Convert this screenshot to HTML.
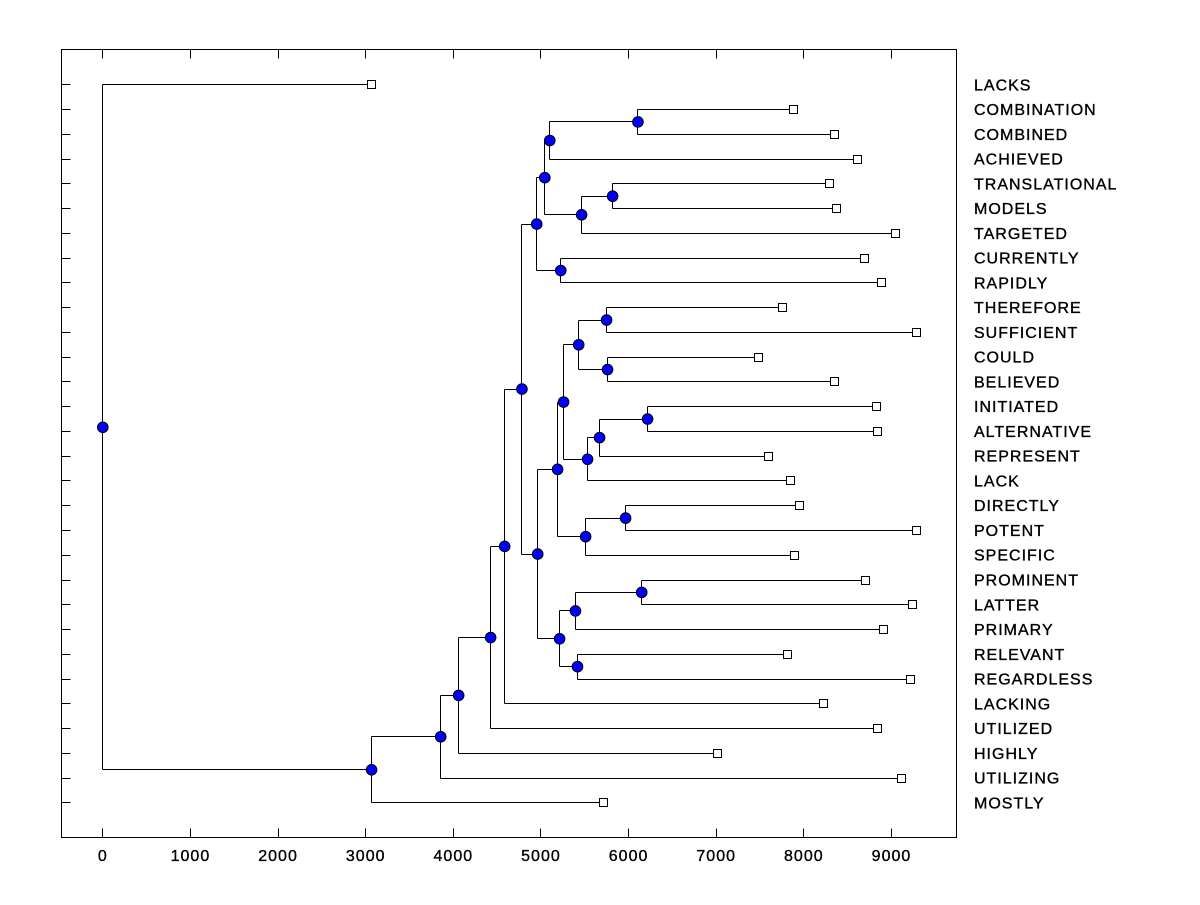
<!DOCTYPE html>
<html><head><meta charset="utf-8"><style>
html,body{margin:0;padding:0;background:#fff;}
svg text{font-family:"Liberation Sans",Arial,sans-serif;font-size:16px;letter-spacing:1px;fill:#000;stroke:#000;stroke-width:0.35px;}
</style></head><body>
<svg id="chart" width="1200" height="900" xmlns="http://www.w3.org/2000/svg">
<rect x="61.5" y="49.5" width="895" height="788" fill="#fff" stroke="#000" stroke-width="1"/>
<g id="g"></g>
</svg>
<script>
const labels = ["LACKS","COMBINATION","COMBINED","ACHIEVED","TRANSLATIONAL","MODELS","TARGETED","CURRENTLY","RAPIDLY","THEREFORE","SUFFICIENT","COULD","BELIEVED","INITIATED","ALTERNATIVE","REPRESENT","LACK","DIRECTLY","POTENT","SPECIFIC","PROMINENT","LATTER","PRIMARY","RELEVANT","REGARDLESS","LACKING","UTILIZED","HIGHLY","UTILIZING","MOSTLY"];
const leafValues = [3067,7885,8353,8615,8296,8375,9048,8695,8889,7759,9289,7485,8353,8832,8843,7599,7851,7953,9289,7896,8706,9242,8912,7816,9220,8227,8843,7017,9117,5716];
// merges: [childA, childB]; internal nodes are numbered 30+ in order
const mergeChildren = [[1,2],[30,3],[4,5],[32,6],[31,33],[7,8],[34,35],[9,10],[11,12],[37,38],[13,14],[40,15],[41,16],[39,42],[17,18],[44,19],[43,45],[20,21],[47,22],[23,24],[48,49],[46,50],[36,51],[52,25],[53,26],[54,27],[55,28],[56,29],[0,57]];
const mergeHeights = [6107,5101,5818,5464,5044,5226,4952,5749,5760,5431,6217,5669,5532,5258,5966,5510,5190,6150,5394,5417,5213,4963,4783,4586,4426,4061,3856,3067,0];
const xTicks = [0,1000,2000,3000,4000,5000,6000,7000,8000,9000];

const X0=102.3, PX=0.08763, Y0=84.3, DY=24.76, LEFT=61.5, TOP=49.5, BOT=837.5;
const sx=v=>X0+v*PX, sy=i=>Y0+i*DY;
const NS="http://www.w3.org/2000/svg", g=document.getElementById('g');
function mk(t,a){const e=document.createElementNS(NS,t);for(const k in a)e.setAttribute(k,a[k]);g.appendChild(e);return e;}

xTicks.forEach(v=>{
  const x=Math.round(sx(v))+0.5;
  let t=mk('line',{x1:x,x2:x,y1:BOT,y2:BOT-9,stroke:'#000'});
  
  
  t=mk('line',{x1:x,x2:x,y1:TOP,y2:TOP+9,stroke:'#000'});
  
  
  const lb=mk('text',{x:sx(v)+0.5,y:861,'text-anchor':'middle'});lb.textContent=v;
  
  
});
labels.forEach((l,i)=>{
  const y=Math.round(sy(i))+0.5;
  const t=mk('line',{x1:LEFT,x2:LEFT+9,y1:y,y2:y,stroke:'#000'});
  
  
  const lb=mk('text',{x:974,y:sy(i)+6});lb.textContent=l;
  
  
});

const nx=[],ny=[];
leafValues.forEach((v,i)=>{nx[i]=sx(v);ny[i]=sy(i);});
mergeChildren.forEach((c,k)=>{const id=30+k;nx[id]=sx(mergeHeights[k]);ny[id]=(ny[c[0]]+ny[c[1]])/2;});
mergeChildren.forEach((c,k)=>{
  const id=30+k, x=Math.round(nx[id])+0.5;
  const ya=Math.round(ny[c[0]])+0.5, yb=Math.round(ny[c[1]])+0.5;
  let e=mk('line',{x1:x,x2:x,y1:ya,y2:yb,stroke:'#000'});
  
  
  c.forEach(ch=>{
    const y=Math.round(ny[ch])+0.5;
    e=mk('line',{x1:x,x2:Math.round(nx[ch])+0.5,y1:y,y2:y,stroke:'#000'});
    
    
  });
});
leafValues.forEach((v,i)=>{
  const e=mk('rect',{x:Math.round(nx[i])-3.5,y:Math.round(ny[i])-3.5,width:8,height:8,fill:'#fff',stroke:'#000'});
  
  
});
mergeChildren.forEach((c,k)=>{
  const id=30+k;
  const e=mk('circle',{cx:nx[id]+0.5,cy:ny[id]+0.5,r:5.3,fill:'#0000ff',stroke:'#000','stroke-width':1});
  
  
});
</script>
</body></html>
